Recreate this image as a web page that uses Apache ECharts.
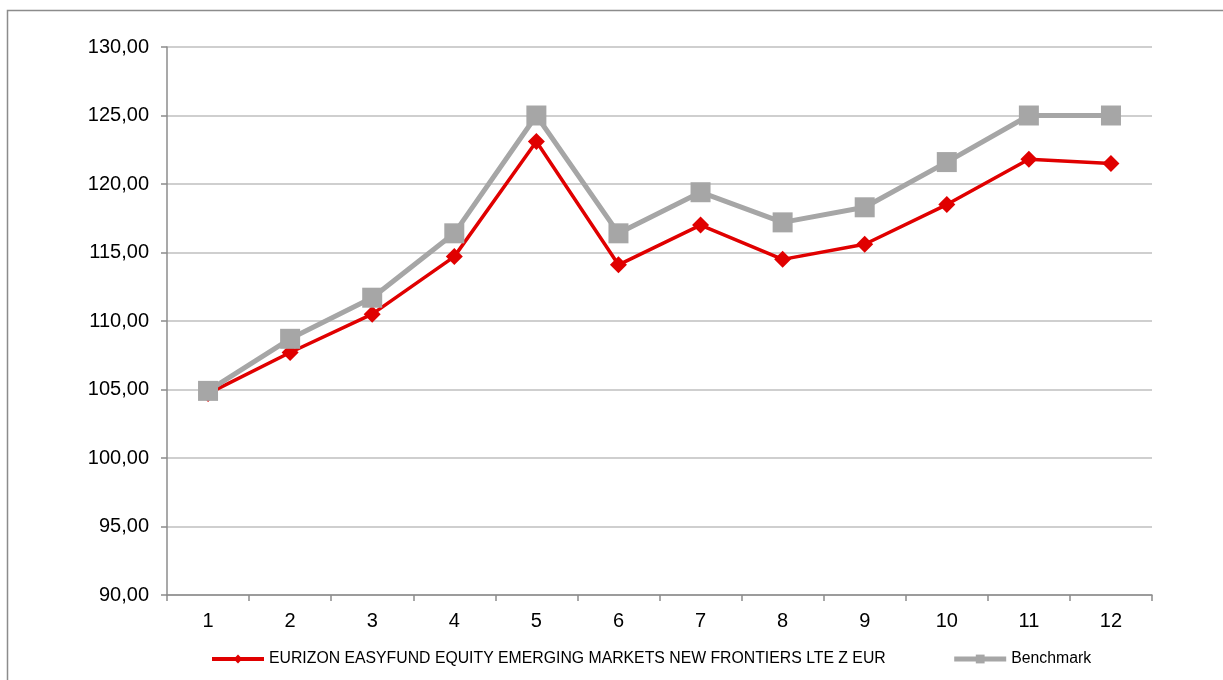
<!DOCTYPE html>
<html>
<head>
<meta charset="utf-8">
<script src="https://cdn.jsdelivr.net/npm/echarts@6/dist/echarts.min.js"></script>
<style>
  html, body { margin: 0; padding: 0; background: #fff; }
  #chart { width: 1223px; height: 680px; }
</style>
</head>
<body>
<div id="chart"></div>
<script>
// dati
const months = ['1', '2', '3', '4', '5', '6', '7', '8', '9', '10', '11', '12'];
const fundName = 'EURIZON EASYFUND EQUITY EMERGING MARKETS NEW FRONTIERS LTE Z EUR';
const fundValues = [104.7, 107.7, 110.5, 114.7, 123.1, 114.1, 117.0, 114.5, 115.6, 118.5, 121.8, 121.5];
const benchName = 'Benchmark';
const benchValues = [104.9, 108.7, 111.7, 116.4, 125.0, 116.4, 119.4, 117.2, 118.3, 121.6, 125.0, 125.0];

const chart = echarts.init(document.getElementById('chart'));

chart.setOption({
  animation: false,
  textStyle: { fontFamily: 'Liberation Sans, Arial, sans-serif' },
  // cornice grigia in alto e a sinistra
  graphic: [{
    type: 'rect',
    shape: { x: 7.5, y: 10.5, width: 1240, height: 700 },
    style: { fill: 'none', stroke: '#8c8c8c', lineWidth: 1.5 },
    silent: true
  }],
  grid: { left: 167, right: 71, top: 47, bottom: 85 },
  legend: {
    bottom: 8,
    left: 205,
    itemWidth: 52,
    itemHeight: 11,
    itemGap: 66,
    textStyle: { fontSize: 15.8, color: '#000' },
    data: [
      { name: fundName, lineStyle: { width: 4 } },
      { name: benchName, lineStyle: { width: 5 } }
    ]
  },
  xAxis: {
    type: 'category',
    data: months,
    boundaryGap: true,
    axisLine: { lineStyle: { color: '#8c8c8c', width: 1.5 } },
    axisTick: { show: true, length: 6, lineStyle: { color: '#8c8c8c', width: 1.5 } },
    axisLabel: { fontSize: 20, color: '#000', margin: 16 }
  },
  yAxis: {
    type: 'value',
    min: 90,
    max: 130,
    interval: 5,
    axisLine: { show: true, lineStyle: { color: '#8c8c8c', width: 1.5 } },
    axisTick: { show: true, length: 6, lineStyle: { color: '#8c8c8c', width: 1.5 } },
    splitLine: { lineStyle: { color: '#bfbfbf', width: 1.5 } },
    axisLabel: {
      fontSize: 20,
      color: '#000',
      margin: 18,
      formatter: v => v.toFixed(2).replace('.', ',')
    }
  },
  series: [
    {
      name: fundName,
      type: 'line',
      data: fundValues,
      symbol: 'diamond',
      symbolSize: 17,
      itemStyle: { color: '#e00000' },
      lineStyle: { color: '#e00000', width: 3.5 },
      z: 2
    },
    {
      name: benchName,
      type: 'line',
      data: benchValues,
      symbol: 'rect',
      symbolSize: 20,
      itemStyle: { color: '#a6a6a6' },
      lineStyle: { color: '#a6a6a6', width: 5 },
      z: 3
    }
  ]
});
</script>
</body>
</html>
